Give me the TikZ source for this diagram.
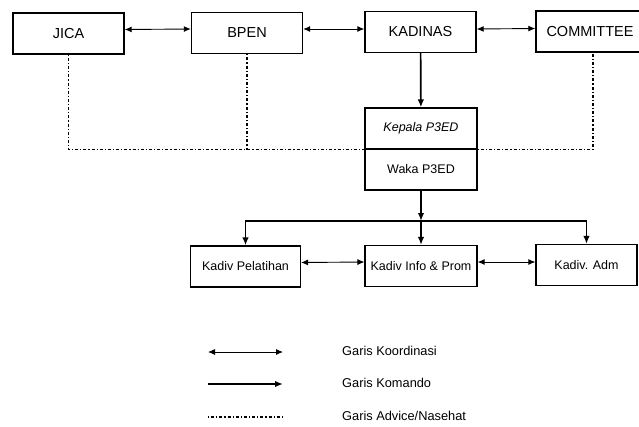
\documentclass[tikz,border=0pt]{standalone}
\usepackage{fontspec}
\setmainfont{Liberation Sans}
\usetikzlibrary{arrows.meta}

\begin{document}
\begin{tikzpicture}[x=1pt,y=-1pt,
  box/.style={draw,line width=1.4pt,minimum width=111pt,minimum height=41pt,inner sep=0pt,font=\fontsize{14.5}{16}\selectfont},
  kbox/.style={draw,line width=1.2pt,minimum width=110pt,minimum height=41pt,inner sep=0pt,font=\fontsize{12.5}{14}\selectfont},
  legtext/.style={anchor=west,inner sep=0pt,font=\fontsize{12.8}{14}\selectfont},
  koord/.style={{Latex[length=7pt,width=6pt]}-{Latex[length=7pt,width=6pt]},line width=0.9pt},
  komando/.style={-{Latex[length=8pt,width=6.5pt]},line width=1.7pt},
  advice/.style={line width=1.2pt,dash pattern=on 1.2pt off 2pt on 3pt off 2pt}]
\useasboundingbox (0,0) rectangle (639,426);
% top row
\node[box] (jica) at (68.5,33.5) {JICA};
\node[box] (bpen) at (247,33) {BPEN};
\node[box] (kadinas) at (420.5,32) {KADINAS};
\node[box,minimum width=108pt] (committee) at (590,31.5) {COMMITTEE};
% P3ED
\node[kbox,minimum width=112pt] (kepala) at (421,128.5) {\itshape Kepala P3ED};
\node[kbox,minimum width=112pt] (waka) at (421,169.5) {Waka P3ED};
% divisions
\node[kbox] (pelatihan) at (245.5,266.5) {Kadiv Pelatihan};
\node[kbox,minimum width=112pt] (info) at (421,266) {Kadiv Info \& Prom};
\node[kbox,minimum width=101pt] (adm) at (586.5,265) {Kadiv. Adm};
\draw[koord] ([yshift=4pt]jica.east) -- ([yshift=4pt]bpen.west);
\draw[koord] ([yshift=4pt]bpen.east) -- ([yshift=3pt]kadinas.west);
\draw[koord] ([yshift=3pt]kadinas.east) -- ([yshift=3pt]committee.west);
\draw[komando] (kadinas) -- (kepala);
\coordinate (split) at (421,221);
\draw[komando] (waka) -- (split);
\draw[komando] (split) -| (pelatihan.north);
\draw[komando] (split) -- (info.north);
\draw[komando] (split) -| (adm.north);
\draw[koord] ([yshift=4pt]pelatihan.east) -- ([yshift=4pt]info.west);
\draw[koord] ([yshift=4pt]info.east) -- ([yshift=3pt]adm.west);
\draw[advice] (jica.south) |- (kepala.south west);
\draw[advice] (bpen.south) -- (bpen.south |- kepala.south west);
\draw[advice] (kepala.south east) -| ([xshift=3pt]committee.south);
% legend
\node[legtext] (lkoord) at (342,351) {Garis Koordinasi};
\node[legtext] (lkomando) at (342,383) {Garis Komando};
\node[legtext] (ladvice) at (342,416) {Garis Advice/Nasehat};
\coordinate (a1) at (208,352); \coordinate (b1) at (283,352);
\coordinate (a2) at (208,384); \coordinate (b2) at (283,384);
\coordinate (a3) at (208,417); \coordinate (b3) at (283,417);
\draw[koord] (a1) -- (b1);
\draw[komando] (a2) -- (b2);
\draw[advice] (a3) -- (b3);
\end{tikzpicture}
\end{document}
